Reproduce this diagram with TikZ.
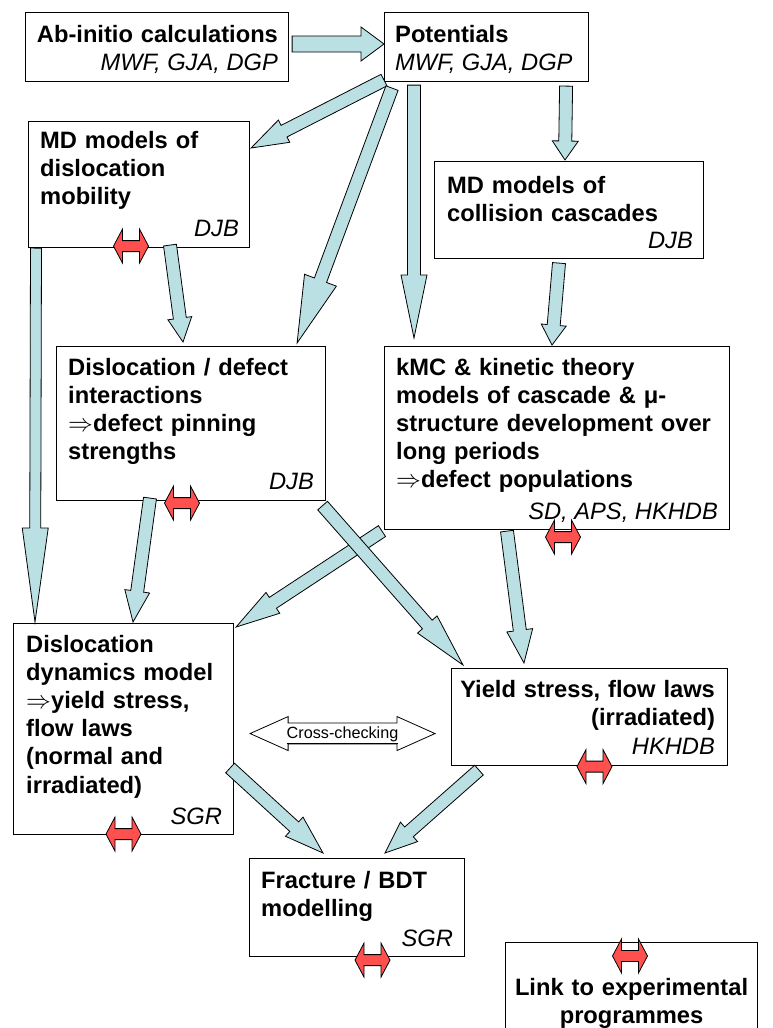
\documentclass[tikz,border=0pt]{standalone}
\usepackage{fontspec}
\setmainfont{Liberation Sans}
\usepackage{tikz}
\usetikzlibrary{
    positioning,  % Relative positioning
    calc          % Coordinate calculations
}

\definecolor{flowblue}{RGB}{187,224,227}
\definecolor{linkred}{RGB}{255,80,80}

\newcommand{\boxfont}{\fontsize{23.7}{28.2}\selectfont\bfseries}
\newcommand{\byfont}{\fontsize{23.7}{28.2}\selectfont\itshape}
\newcommand{\xfont}{\fontsize{16.2}{19}\selectfont}

\tikzset{
    box/.style={draw, fill=white, line width=1.1pt, anchor=north west, inner sep=0pt},
    title/.style={font=\boxfont, inner sep=0pt, text width=330pt, align=left, anchor=base west},
    rtitle/.style={title, align=right, anchor=base east},
    byline/.style={font=\byfont, inner sep=0pt, anchor=base east},
    flowarrow/.style={draw, fill=flowblue, line width=0.8pt, line join=miter},
    linkarrow/.style={draw, fill=linkred, line width=0.8pt},
    crossarrow/.style={draw, fill=white, line width=0.8pt}
}

% block arrow: [shaft half width]{start}{tip}{head length}{head half width}
\newcommand{\flow}[5][6.5]{%
    \coordinate (fs) at #2;
    \coordinate (ft) at #3;
    \coordinate (fh) at ($(ft)!#4pt!(fs)$);
    \draw[flowarrow] ($(fs)!#1pt!90:(ft)$) -- ($(fh)!#1pt!90:(ft)$) -- ($(fh)!#5pt!90:(ft)$) -- (ft)
        -- ($(fh)!#5pt!-90:(ft)$) -- ($(fh)!#1pt!-90:(ft)$) -- ($(fs)!#1pt!-90:(ft)$) -- cycle;
}

% red marker: link to experiment
\newcommand{\linkmark}[1]{%
    \draw[linkarrow, shift={#1}] (-17.5,0) -- (-8.5,-17) -- (-8.5,-5.5) -- (8.5,-5.5) -- (8.5,-17)
        -- (17.5,0) -- (8.5,17) -- (8.5,5.5) -- (-8.5,5.5) -- (-8.5,17) -- cycle;
}

\begin{document}
\begin{tikzpicture}[x=1pt, y=-1pt]
    \useasboundingbox (0,0) rectangle (773,1028);
    \clip (0,0) rectangle (773,1028);

    % boxes
    \node[box, minimum width=263pt, minimum height=69pt] (abinit) at (25,12) {};
    \node[box, minimum width=204pt, minimum height=69pt] (pot) at (384,12) {};
    \node[box, minimum width=221pt, minimum height=126pt] (mdd) at (28,121) {};
    \node[box, minimum width=269pt, minimum height=97pt] (mdc) at (434,161) {};
    \node[box, minimum width=269pt, minimum height=154pt] (ddi) at (56,346) {};
    \node[box, minimum width=345pt, minimum height=183pt] (kmc) at (384,346) {};
    \node[box, minimum width=220pt, minimum height=211pt] (dd) at (13,623) {};
    \node[box, minimum width=276pt, minimum height=97pt] (ys) at (451,668) {};
    \node[box, minimum width=215pt, minimum height=98pt] (frac) at (249,858) {};
    \node[box, minimum width=252pt, minimum height=100pt] (link) at (505,942) {};

    % box texts
    \node[rtitle] (abinit-t) at ($(abinit.north east)+(-11,30)$) {Ab-initio calculations};
    \node[byline] (abinit-b) at ($(abinit.north east)+(-11,58)$) {MWF, GJA, DGP};
    \node[title] (pot-t) at ($(pot.north west)+(11,30)$) {Potentials};
    \node[byline, anchor=base west] (pot-b) at ($(pot.north west)+(11,58)$) {MWF, GJA, DGP};
    \node[title] (mdd-t) at ($(mdd.north west)+(12,27)$) {MD models of\\dislocation\\mobility};
    \node[byline] (mdd-b) at ($(mdd.south east)+(-11,-12)$) {DJB};
    \node[title] (mdc-t) at ($(mdc.north west)+(13,32)$) {MD models of\\collision cascades};
    \node[byline] (mdc-b) at ($(mdc.south east)+(-11,-11)$) {DJB};
    \node[title] (ddi-t) at ($(ddi.north west)+(12,29)$)
        {Dislocation / defect\\interactions\\$\Rightarrow$defect pinning\\strengths};
    \node[byline] (ddi-b) at ($(ddi.south east)+(-12,-12)$) {DJB};
    \node[title] (kmc-t) at ($(kmc.north west)+(12,29)$)
        {kMC \& kinetic theory\\models of cascade \& μ-\\structure development over\\long periods\\$\Rightarrow$defect populations};
    \node[byline] (kmc-b) at ($(kmc.south east)+(-12,-11)$) {SD, APS, HKHDB};
    \node[title] (dd-t) at ($(dd.north west)+(13,29)$)
        {Dislocation\\dynamics model\\$\Rightarrow$yield stress,\\flow laws\\(normal and\\irradiated)};
    \node[byline] (dd-b) at ($(dd.south east)+(-12,-11)$) {SGR};
    \node[rtitle] (ys-t) at ($(ys.north east)+(-13,29)$) {Yield stress, flow laws\\(irradiated)};
    \node[byline] (ys-b) at ($(ys.south east)+(-13,-12)$) {HKHDB};
    \node[title] (frac-t) at ($(frac.north west)+(12,30)$) {Fracture / BDT\\modelling};
    \node[byline] (frac-b) at ($(frac.south east)+(-12,-11)$) {SGR};
    \node[title, text width=252pt, align=center, anchor=base] (link-t) at ($(link.north)+(0,53)$)
        {Link to experimental\\programmes};

    % flows between models
    \flow[8]{($(abinit.north east)+(3,32)$)}{($(pot.north west)+(0,32)$)}{23}{17}
    \flow{($(pot.south west)+(0,-2)$)}{($(mdd.north east)+(1,27)$)}{37}{12.5}
    \flow{($(pot.south west)+(8,6)$)}{($(ddi.north east)+(-29,-3)$)}{67}{17}
    \flow{($(pot.south west)+(30,3)$)}{($(kmc.north west)+(30,-8)$)}{63}{13}
    \flow{($(pot.south east)+(-23,4)$)}{($(mdc.north west)+(131,-1)$)}{19}{13}
    \flow{($(mdc.south west)+(125,4)$)}{($(kmc.north west)+(168,-1)$)}{20}{12.5}
    \flow[5.5]{($(mdd.south west)+(8,0)$)}{($(dd.north west)+(22,-1)$)}{94}{13}
    \flow{($(mdd.south west)+(142,-3)$)}{($(ddi.north west)+(127,-4)$)}{24}{12}
    \flow{($(ddi.south west)+(94,-3)$)}{($(dd.north west)+(120,-1)$)}{31}{12.5}
    \flow{($(kmc.south west)+(-2,1)$)}{($(dd.north east)+(2,4)$)}{44}{12.5}
    \flow{($(ddi.south east)+(-3.5,4.5)$)}{($(ys.north west)+(12,-3)$)}{54}{13}
    \flow{($(kmc.south west)+(123,1)$)}{($(ys.north west)+(73,-5)$)}{33}{13}
    \flow{($(dd.north east)+(-4,145)$)}{($(frac.north west)+(74,-5)$)}{39}{13}
    \flow{($(ys.south west)+(28,4)$)}{($(frac.north west)+(136,-5)$)}{32}{13}

    % cross-checking
    \coordinate (xl) at ($(dd.east)+(16,4.5)$);
    \coordinate (xr) at ($(ys.west)+(-16,16.5)$);
    \draw[crossarrow] (xl) -- ($(xl)+(38,-17)$) -- ($(xl)+(38,-10.5)$) -- ($(xr)+(-38,-10.5)$)
        -- ($(xr)+(-38,-17)$) -- (xr) -- ($(xr)+(-38,17)$) -- ($(xr)+(-38,10.5)$)
        -- ($(xl)+(38,10.5)$) -- ($(xl)+(38,17)$) -- cycle;
    \node[font=\xfont, inner sep=0pt, anchor=base] (xcheck) at ($(xl)!0.5!(xr)+(0,5)$)
        {\underline{Cross-checking}};

    % links to experiment
    \linkmark{($(mdd.south west)+(103,-2)$)}
    \linkmark{($(ddi.south west)+(126,2)$)}
    \linkmark{($(kmc.south west)+(179,7)$)}
    \linkmark{($(dd.south west)+(110.5,-1)$)}
    \linkmark{($(ys.south west)+(143.5,0.5)$)}
    \linkmark{($(frac.south west)+(123.5,3)$)}
    \linkmark{($(link.north west)+(125,14)$)}
\end{tikzpicture}
\end{document}
